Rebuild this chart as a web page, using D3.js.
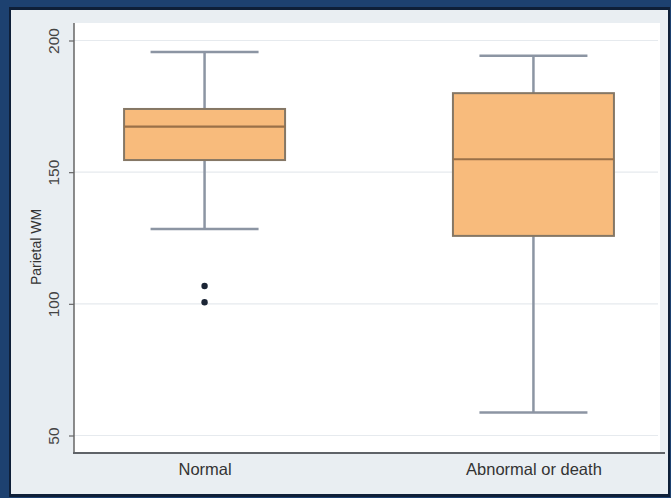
<!DOCTYPE html>
<html>
<head>
<meta charset="utf-8">
<script src="https://cdn.jsdelivr.net/npm/d3@7"></script>
<style>
  html, body { margin: 0; padding: 0; background: #1d4170; }
  svg { display: block; }
  text { font-family: "Liberation Sans", Arial, sans-serif; }
</style>
</head>
<body>
<script>
// Parietal white-matter values by outcome group
const categories = ["Normal", "Abnormal or death"];
const whiskerLow  = [128.4, 58.7];
const quartile1   = [154.6, 125.8];
const medians     = [167.3, 154.9];
const quartile3   = [174.0, 180.0];
const whiskerHigh = [195.6, 194.2];
const outliers    = [[106.8, 100.6], []];
const yTicks      = [50, 100, 150, 200];
const yLabel      = "Parietal WM";

const W = 671, H = 498;
const svg = d3.select("body").append("svg").attr("width", W).attr("height", H);

// frame and panel
svg.append("rect").attr("width", W).attr("height", H).attr("fill", "#1d4170");
svg.append("rect").attr("x", 9).attr("y", 7).attr("width", 661).attr("height", 490).attr("fill", "#0e1f38");
svg.append("rect").attr("x", 11).attr("y", 10).attr("width", 657).attr("height", 484).attr("fill", "#e9eef2");

const plot = { left: 74, right: 660, top: 23, bottom: 453 };
svg.append("rect")
  .attr("x", plot.left).attr("y", plot.top)
  .attr("width", plot.right - plot.left).attr("height", plot.bottom - plot.top)
  .attr("fill", "#ffffff");

const y = d3.scaleLinear().domain([50, 200]).range([435.5, 40.5]);
const x = d3.scalePoint().domain(categories).range([plot.left, 664]).padding(0.397);

// gridlines
svg.append("g").selectAll("line").data(yTicks).join("line")
  .attr("x1", plot.left).attr("x2", plot.right - 2)
  .attr("y1", d => y(d)).attr("y2", d => y(d))
  .attr("stroke", "#e6eaee").attr("stroke-width", 1.2);

// y axis
const yAxis = svg.append("g").attr("transform", `translate(${plot.left},0)`)
  .call(d3.axisLeft(y).tickValues(yTicks).tickSize(5));
yAxis.select(".domain").remove();
yAxis.selectAll(".tick line").attr("stroke", "#666").attr("stroke-width", 1.2);
yAxis.selectAll(".tick text")
  .attr("fill", "#444").attr("font-size", 15.5)
  .attr("text-anchor", "middle")
  .attr("transform", "rotate(-90)")
  .attr("x", 0).attr("y", -15).attr("dy", 0);
svg.append("line")
  .attr("x1", plot.left).attr("x2", plot.left)
  .attr("y1", plot.top).attr("y2", plot.bottom)
  .attr("stroke", "#666").attr("stroke-width", 1.5);

svg.append("text")
  .attr("transform", `translate(41,247) rotate(-90)`)
  .attr("text-anchor", "middle").attr("font-size", 14).attr("fill", "#333")
  .text(yLabel);

// x axis
const xAxis = svg.append("g").attr("transform", `translate(0,${plot.bottom})`)
  .call(d3.axisBottom(x).tickSize(0).tickPadding(10));
xAxis.select(".domain").remove();
xAxis.selectAll(".tick text").attr("fill", "#333").attr("font-size", 16.5);
svg.append("line")
  .attr("x1", plot.left - 1).attr("x2", 665)
  .attr("y1", plot.bottom).attr("y2", plot.bottom)
  .attr("stroke", "#5f6368").attr("stroke-width", 2);

// boxes
const boxW = 161, capW = 108;
const stats = categories.map((c, i) => ({
  c, lo: whiskerLow[i], q1: quartile1[i], med: medians[i], q3: quartile3[i], hi: whiskerHigh[i], out: outliers[i]
}));
const g = svg.append("g");
const boxes = g.selectAll("g.box").data(stats).join("g").attr("class", "box");

boxes.append("line")
  .attr("x1", d => x(d.c)).attr("x2", d => x(d.c))
  .attr("y1", d => y(d.hi)).attr("y2", d => y(d.q3))
  .attr("stroke", "#8c95a3").attr("stroke-width", 2.5);
boxes.append("line")
  .attr("x1", d => x(d.c)).attr("x2", d => x(d.c))
  .attr("y1", d => y(d.q1)).attr("y2", d => y(d.lo))
  .attr("stroke", "#8c95a3").attr("stroke-width", 2.5);
boxes.selectAll("line.cap").data(d => [[d.c, d.hi], [d.c, d.lo]]).join("line").attr("class", "cap")
  .attr("x1", d => x(d[0]) - capW / 2).attr("x2", d => x(d[0]) + capW / 2)
  .attr("y1", d => y(d[1])).attr("y2", d => y(d[1]))
  .attr("stroke", "#8c95a3").attr("stroke-width", 2.5);

boxes.append("rect")
  .attr("x", d => x(d.c) - boxW / 2).attr("width", boxW)
  .attr("y", d => y(d.q3)).attr("height", d => y(d.q1) - y(d.q3))
  .attr("fill", "#f8bb7c").attr("stroke", "#857765").attr("stroke-width", 2);
boxes.append("line")
  .attr("x1", d => x(d.c) - boxW / 2).attr("x2", d => x(d.c) + boxW / 2)
  .attr("y1", d => y(d.med)).attr("y2", d => y(d.med))
  .attr("stroke", "#9a7048").attr("stroke-width", 2.2);

boxes.selectAll("circle").data(d => d.out.map(v => [d.c, v])).join("circle")
  .attr("cx", d => x(d[0])).attr("cy", d => y(d[1])).attr("r", 3.2)
  .attr("fill", "#1b2535");
</script>
</body>
</html>
